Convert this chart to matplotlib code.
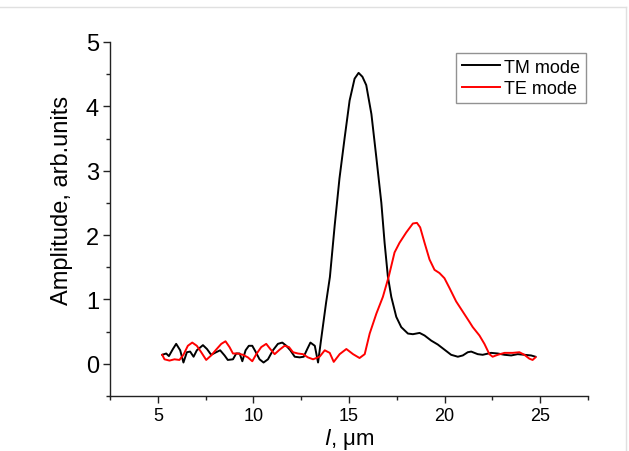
import matplotlib.pyplot as plt
from matplotlib.lines import Line2D
from matplotlib.ticker import MultipleLocator

plt.rcParams['font.family'] = ['Liberation Sans', 'DejaVu Sans']

# TM mode (black) readings
tm_x = [5.23, 5.44, 5.58, 5.79, 5.96, 6.17, 6.34, 6.52, 6.69, 6.87, 7.04, 7.36, 7.57,
        7.79, 8.05, 8.26, 8.49, 8.66, 8.93, 9.10, 9.28, 9.42, 9.59, 9.76, 9.94, 10.11,
        10.32, 10.53, 10.76, 11.02, 11.28, 11.51, 11.72, 11.93, 12.16, 12.42, 12.63,
        12.80, 12.98, 13.21, 13.38, 13.55, 13.80, 14.00, 14.25, 14.50, 14.77, 15.03,
        15.29, 15.50, 15.70, 15.90, 16.17, 16.43, 16.69, 16.86, 17.03, 17.21, 17.47,
        17.73, 18.08, 18.34, 18.69, 18.95, 19.30, 19.64, 19.99, 20.34, 20.69, 20.95,
        21.21, 21.39, 21.73, 21.99, 22.43, 22.78, 23.13, 23.48, 23.82, 24.17, 24.52, 24.75]
tm_y = [0.14, 0.16, 0.12, 0.23, 0.31, 0.21, 0.02, 0.18, 0.19, 0.11, 0.21, 0.29, 0.23,
        0.14, 0.18, 0.21, 0.13, 0.06, 0.07, 0.16, 0.16, 0.04, 0.21, 0.28, 0.28, 0.19,
        0.07, 0.02, 0.07, 0.21, 0.31, 0.33, 0.28, 0.21, 0.11, 0.10, 0.11,
        0.22, 0.33, 0.28, 0.02, 0.40, 0.95, 1.35, 2.15, 2.88, 3.51, 4.09,
        4.43, 4.52, 4.46, 4.33, 3.88, 3.20, 2.50, 1.88, 1.36, 1.04, 0.73,
        0.57, 0.47, 0.46, 0.48, 0.44, 0.36, 0.30, 0.22, 0.14, 0.11, 0.13,
        0.18, 0.19, 0.15, 0.14, 0.17, 0.16, 0.14, 0.13, 0.15, 0.14, 0.13, 0.11]

# TE mode (red) readings
te_x = [5.23, 5.35, 5.61, 5.87, 6.13, 6.34, 6.57, 6.80, 7.04, 7.27, 7.53, 7.79, 8.05,
        8.32, 8.54, 8.75, 8.93, 9.19, 9.45, 9.71, 9.94, 10.15, 10.41, 10.67, 10.88,
        11.11, 11.37, 11.63, 11.86, 12.07, 12.33, 12.59, 12.85, 13.12, 13.46, 13.73,
        13.99, 14.20, 14.51, 14.86, 15.21, 15.55, 15.82, 16.08, 16.43, 16.77, 17.08,
        17.38, 17.64, 17.99, 18.34, 18.55, 18.72, 18.95, 19.21, 19.47, 19.73, 19.99,
        20.25, 20.60, 20.95, 21.30, 21.47, 21.82, 22.08, 22.34, 22.51, 22.78, 23.13,
        23.56, 23.91, 24.17, 24.43, 24.60, 24.75]
te_y = [0.14, 0.07, 0.05, 0.07, 0.06, 0.14, 0.28, 0.33, 0.28, 0.18, 0.06, 0.13, 0.22,
        0.31, 0.35, 0.26, 0.16, 0.16, 0.14, 0.10, 0.04, 0.15, 0.26, 0.31, 0.23,
        0.15, 0.22, 0.28, 0.26, 0.18, 0.16, 0.15, 0.10, 0.07, 0.11, 0.21,
        0.17, 0.03, 0.15, 0.23, 0.15, 0.09, 0.15, 0.47, 0.78, 1.04, 1.36,
        1.73, 1.88, 2.04, 2.18, 2.19, 2.12, 1.88, 1.62, 1.46, 1.41, 1.33,
        1.18, 0.97, 0.81, 0.65, 0.57, 0.44, 0.31, 0.15, 0.11, 0.14, 0.17,
        0.17, 0.18, 0.14, 0.08, 0.06, 0.10]

fig = plt.figure(figsize=(6.29, 4.52), dpi=100)
ax = fig.add_axes([0.1749, 0.1217, 0.76, 0.7832])

ax.plot(tm_x, tm_y, color='black', lw=1.4, label='TM mode')
ax.plot(te_x, te_y, color='red', lw=1.4, label='TE mode')

ax.set_xlim(2.5, 27.5)
ax.set_ylim(-0.5, 5)
ax.xaxis.set_major_locator(MultipleLocator(5))
ax.xaxis.set_minor_locator(MultipleLocator(2.5))
ax.yaxis.set_major_locator(MultipleLocator(1))
ax.yaxis.set_minor_locator(MultipleLocator(0.5))

ax.spines['top'].set_visible(False)
ax.spines['right'].set_visible(False)
for s in ('left', 'bottom'):
    ax.spines[s].set_linewidth(1.0)
    ax.spines[s].set_color('#222222')

ax.tick_params(which='major', direction='out', length=5, width=1, color='#222222')
ax.tick_params(which='minor', direction='out', length=3, width=1, color='#222222')
ax.tick_params(axis='x', labelsize=13, pad=3)
ax.tick_params(axis='y', labelsize=17, pad=3)

ax.set_xlabel('$\\mathit{l}$, \u03bcm', fontsize=16)
ax.xaxis.set_label_coords(0.5, -0.084)
ax.set_ylabel('Amplitude, arb.units', fontsize=17)
ax.yaxis.set_label_coords(-0.077, 0.556)

leg = ax.legend(loc='upper right', bbox_to_anchor=(0.995, 0.968), fontsize=13,
                frameon=True, fancybox=False, edgecolor='#777777',
                handlelength=2.1, handletextpad=0.25, borderpad=0.3,
                labelspacing=0.25, borderaxespad=0)
leg.get_frame().set_linewidth(1.0)

# faint border of the original picture
fig.add_artist(Line2D([0, 0.996], [0.982, 0.982], transform=fig.transFigure,
                      color='#e0e0e0', lw=1))
fig.add_artist(Line2D([0.996, 0.996], [0, 0.982], transform=fig.transFigure,
                      color='#e0e0e0', lw=1))

fig.savefig('out.png', dpi=100)
